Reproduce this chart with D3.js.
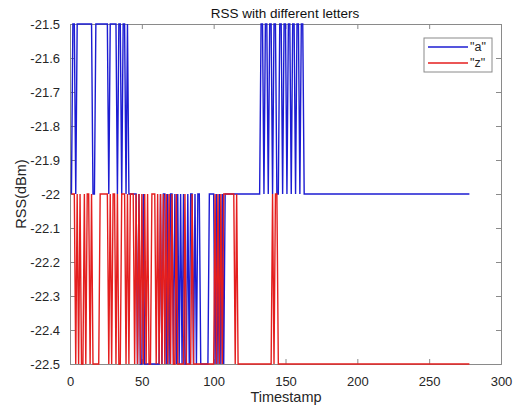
<!DOCTYPE html>
<html>
<head>
<meta charset="utf-8">
<script src="https://cdn.jsdelivr.net/npm/d3@7/dist/d3.min.js"></script>
<style>
  html, body { margin: 0; padding: 0; background: #fff; }
  svg { display: block; font-family: "Liberation Sans", Arial, sans-serif; }
</style>
</head>
<body>
<svg id="chart" width="516" height="407"></svg>
<script>
// ---------- data ----------
const titleText = "RSS with different letters";
const xLabel = "Timestamp";
const yLabel = "RSS(dBm)";
const seriesNames = ['"a"', '"z"'];
const xTicks = [0, 50, 100, 150, 200, 250, 300];
const yTicks = [-21.5, -21.6, -21.7, -21.8, -21.9, -22, -22.1, -22.2, -22.3, -22.4, -22.5];

// timestamps 1..278
// "a" values
const seriesA = [
  -22, -21.5, -21.5, -22, -21.5, -21.5, -21.5, -21.5, -21.5, -21.5,
  -21.5, -21.5, -21.5, -21.5, -21.5, -22, -22, -21.5, -21.5, -21.5,
  -21.5, -21.5, -21.5, -21.5, -21.5, -21.5, -22, -21.5, -21.5, -21.5,
  -21.5, -21.5, -22, -21.5, -21.5, -22, -21.5, -21.5, -22, -21.5,
  -22, -22, -22, -22, -22, -22, -22.5, -22, -22.5, -22.5,
  -22, -22.5, -22.5, -22.5, -22.5, -22.5, -22.5, -22.5, -22.5, -22.5,
  -22.5, -22.5, -22, -22.5, -22, -22, -22.5, -22, -22.5, -22,
  -22, -22.5, -22, -22.5, -22, -22.5, -22, -22.5, -22, -22.5,
  -22.5, -22, -22.5, -22, -22, -22.5, -22, -22.5, -22, -22,
  -22.5, -22.5, -22.5, -22.5, -22.5, -22.5, -22, -22, -22, -22,
  -22.5, -22, -22.5, -22, -22.5, -22, -22.5, -22, -22, -22,
  -22, -22, -22, -22, -22, -22, -22, -22, -22, -22,
  -22, -22, -22, -22, -22, -22, -22, -22, -22, -22,
  -22, -22, -21.5, -21.5, -22, -21.5, -21.5, -22, -21.5, -21.5,
  -22, -21.5, -21.5, -22, -22, -21.5, -21.5, -22, -21.5, -21.5,
  -22, -21.5, -21.5, -22, -21.5, -21.5, -22, -21.5, -21.5, -22,
  -21.5, -21.5, -22, -22, -22, -22, -22, -22, -22, -22,
  -22, -22, -22, -22, -22, -22, -22, -22, -22, -22,
  -22, -22, -22, -22, -22, -22, -22, -22, -22, -22,
  -22, -22, -22, -22, -22, -22, -22, -22, -22, -22,
  -22, -22, -22, -22, -22, -22, -22, -22, -22, -22,
  -22, -22, -22, -22, -22, -22, -22, -22, -22, -22,
  -22, -22, -22, -22, -22, -22, -22, -22, -22, -22,
  -22, -22, -22, -22, -22, -22, -22, -22, -22, -22,
  -22, -22, -22, -22, -22, -22, -22, -22, -22, -22,
  -22, -22, -22, -22, -22, -22, -22, -22, -22, -22,
  -22, -22, -22, -22, -22, -22, -22, -22, -22, -22,
  -22, -22, -22, -22, -22, -22, -22, -22
];
// "z" values
const seriesZ = [
  -22, -22, -22, -22.5, -22, -22.5, -22, -22.5, -22.5, -22,
  -22.5, -22, -22, -22.5, -22, -22.5, -22.5, -22.5, -22.5, -22.5,
  -22, -22, -22, -22, -22, -22, -22.5, -22, -22.5, -22,
  -22, -22.5, -22, -22.5, -22.5, -22, -22, -22, -22.5, -22,
  -22.5, -22, -22, -22, -22.5, -22, -22.5, -22, -22.5, -22,
  -22.5, -22, -22.5, -22, -22.5, -22.5, -22, -22, -22, -22.5,
  -22, -22.5, -22, -22.5, -22, -22.5, -22, -22.5, -22, -22.5,
  -22, -22.5, -22.5, -22, -22.5, -22.5, -22.5, -22.5, -22.5, -22,
  -22.5, -22.5, -22.5, -22.5, -22, -22.5, -22.5, -22.5, -22.5, -22.5,
  -22.5, -22.5, -22.5, -22.5, -22.5, -22.5, -22.5, -22.5, -22.5, -22.5,
  -22, -22.5, -22, -22.5, -22, -22.5, -22, -22, -22, -22,
  -22, -22, -22, -22, -22.5, -22, -22.5, -22.5, -22.5, -22.5,
  -22.5, -22.5, -22.5, -22.5, -22.5, -22.5, -22.5, -22.5, -22.5, -22.5,
  -22.5, -22.5, -22.5, -22.5, -22.5, -22.5, -22.5, -22.5, -22.5, -22.5,
  -22, -22.5, -22, -22, -22.5, -22.5, -22.5, -22.5, -22.5, -22.5,
  -22.5, -22.5, -22.5, -22.5, -22.5, -22.5, -22.5, -22.5, -22.5, -22.5,
  -22.5, -22.5, -22.5, -22.5, -22.5, -22.5, -22.5, -22.5, -22.5, -22.5,
  -22.5, -22.5, -22.5, -22.5, -22.5, -22.5, -22.5, -22.5, -22.5, -22.5,
  -22.5, -22.5, -22.5, -22.5, -22.5, -22.5, -22.5, -22.5, -22.5, -22.5,
  -22.5, -22.5, -22.5, -22.5, -22.5, -22.5, -22.5, -22.5, -22.5, -22.5,
  -22.5, -22.5, -22.5, -22.5, -22.5, -22.5, -22.5, -22.5, -22.5, -22.5,
  -22.5, -22.5, -22.5, -22.5, -22.5, -22.5, -22.5, -22.5, -22.5, -22.5,
  -22.5, -22.5, -22.5, -22.5, -22.5, -22.5, -22.5, -22.5, -22.5, -22.5,
  -22.5, -22.5, -22.5, -22.5, -22.5, -22.5, -22.5, -22.5, -22.5, -22.5,
  -22.5, -22.5, -22.5, -22.5, -22.5, -22.5, -22.5, -22.5, -22.5, -22.5,
  -22.5, -22.5, -22.5, -22.5, -22.5, -22.5, -22.5, -22.5, -22.5, -22.5,
  -22.5, -22.5, -22.5, -22.5, -22.5, -22.5, -22.5, -22.5, -22.5, -22.5,
  -22.5, -22.5, -22.5, -22.5, -22.5, -22.5, -22.5, -22.5
];
const colors = ["#1c1cd2", "#e41e1e"];

// ---------- chart ----------
const svg = d3.select("#chart");
const m = { left: 70, right: 501, top: 24, bottom: 364 };
const x = d3.scaleLinear().domain([0, 300]).range([m.left, m.right]);
const y = d3.scaleLinear().domain([-22.5, -21.5]).range([m.bottom, m.top]);
const axisColor = "#8a8a8a";
const textColor = "#262626";
const fmtY = d => String(+(+d).toFixed(1));

svg.append("rect").attr("x", 0).attr("y", 0).attr("width", 516).attr("height", 407).attr("fill", "#fff");

// axes (MATLAB-style box with inward ticks)
const tickLen = 5;
const xb = svg.append("g").attr("transform", `translate(0,${m.bottom})`)
  .call(d3.axisBottom(x).tickValues(xTicks).tickSize(-tickLen).tickPadding(8 + tickLen).tickFormat(d => String(d)));
const xt = svg.append("g").attr("transform", `translate(0,${m.top})`)
  .call(d3.axisTop(x).tickValues(xTicks).tickSize(-tickLen).tickFormat(""));
const yl = svg.append("g").attr("transform", `translate(${m.left},0)`)
  .call(d3.axisLeft(y).tickValues(yTicks).tickSize(-tickLen).tickPadding(5 + tickLen).tickFormat(fmtY));
const yr = svg.append("g").attr("transform", `translate(${m.right},0)`)
  .call(d3.axisRight(y).tickValues(yTicks).tickSize(-tickLen).tickFormat(""));
[xb, xt, yl, yr].forEach(g => {
  g.select(".domain").attr("stroke", axisColor).attr("stroke-width", 1);
  g.selectAll(".tick line").attr("stroke", axisColor);
  g.selectAll(".tick text").attr("fill", textColor).style("font-size", "13px")
    .style("font-family", '"Liberation Sans", Arial, sans-serif');
});

// data lines, drawn above the axes box
const plot = svg.append("g");
const line = d3.line().x(d => x(d[0])).y(d => y(d[1]));
[seriesA, seriesZ].forEach((s, i) => {
  const pts = s.map((v, k) => [k + 1, v]);
  plot.append("path")
    .datum(pts)
    .attr("d", line)
    .attr("fill", "none")
    .attr("stroke", colors[i])
    .attr("stroke-width", 1.4)
    .attr("stroke-linejoin", "miter");
});

// title and labels
svg.append("text").attr("x", 285).attr("y", 18).attr("text-anchor", "middle")
  .attr("fill", "#111").style("font-size", "13.5px").text(titleText);
svg.append("text").attr("x", 286).attr("y", 402).attr("text-anchor", "middle")
  .attr("fill", textColor).style("font-size", "14.5px").text(xLabel);
svg.append("text").attr("transform", `translate(26,${(m.top + m.bottom) / 2}) rotate(-90)`)
  .attr("text-anchor", "middle").attr("fill", textColor).style("font-size", "14.5px").text(yLabel);

// legend
const lg = svg.append("g");
lg.append("rect").attr("x", 424).attr("y", 38).attr("width", 68).attr("height", 34)
  .attr("fill", "#fff").attr("stroke", axisColor).attr("stroke-width", 1);
seriesNames.forEach((n, i) => {
  const yy = 47 + i * 16;
  lg.append("line").attr("x1", 428).attr("x2", 468).attr("y1", yy).attr("y2", yy)
    .attr("stroke", colors[i]).attr("stroke-width", 1.4);
  lg.append("text").attr("x", 470).attr("y", yy + 4).attr("fill", textColor)
    .style("font-size", "12.5px").text(n);
});
</script>
</body>
</html>
